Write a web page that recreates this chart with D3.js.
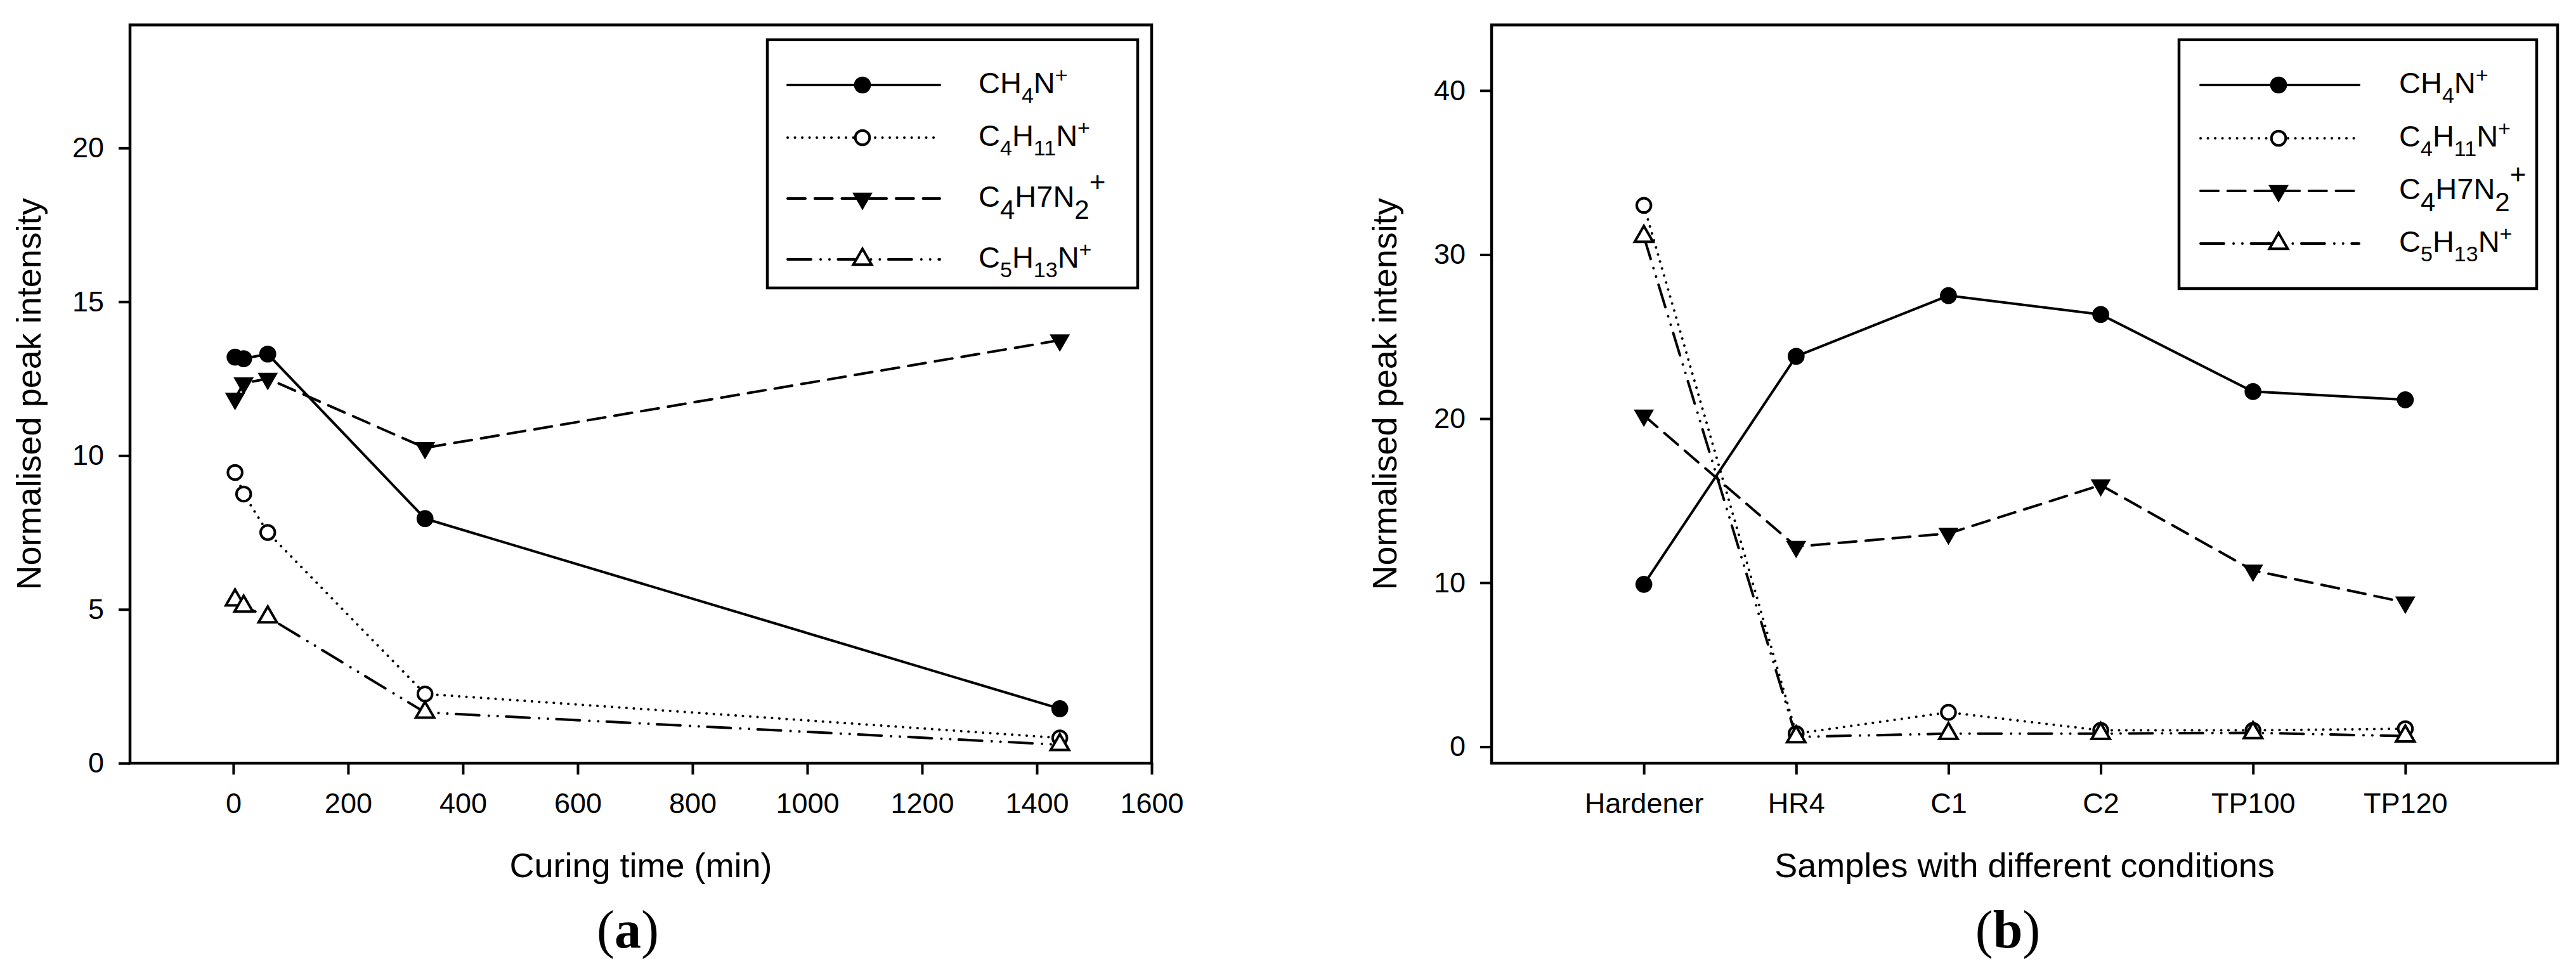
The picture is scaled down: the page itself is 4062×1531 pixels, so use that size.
<!DOCTYPE html>
<html>
<head>
<meta charset="utf-8">
<script src="https://cdn.jsdelivr.net/npm/d3@7"></script>
<style>
  body { margin: 0; background: #fff; }
  svg text { font-family: "Liberation Sans", Arial, sans-serif; fill: #000; }
</style>
</head>
<body>
<svg id="fig" width="4062" height="1531"></svg>
<script>
// ---- panel (a) : curing time ----
var curingTime = [3, 18, 60, 334, 1440];
var ch4nA   = [13.2, 13.15, 13.3, 7.95, 1.77];
var c4h11nA = [9.45, 8.75, 7.5, 2.25, 0.82];
var c4h7n2A = [11.85, 12.35, 12.5, 10.25, 13.75];
var c5h13nA = [5.3, 5.1, 4.75, 1.65, 0.6];
var xTicksA = [0, 200, 400, 600, 800, 1000, 1200, 1400, 1600];
var yTicksA = [0, 5, 10, 15, 20];

// ---- panel (b) : samples ----
var samples = ["Hardener", "HR4", "C1", "C2", "TP100", "TP120"];
var ch4nB   = [9.9, 23.8, 27.5, 26.35, 21.65, 21.15];
var c4h11nB = [33.0, 0.8, 2.1, 1.0, 1.0, 1.1];
var c4h7n2B = [20.2, 12.2, 13.0, 15.95, 10.75, 8.8];
var c5h13nB = [31.1, 0.6, 0.8, 0.8, 0.85, 0.65];
var yTicksB = [0, 10, 20, 30, 40];

// legend labels, one list of pieces per series (sub / sup)
var legendLabels = [
  [{t: "CH"}, {t: "4", k: "sub"}, {t: "N"}, {t: "+", k: "sup"}],
  [{t: "C"}, {t: "4", k: "sub"}, {t: "H"}, {t: "11", k: "sub"}, {t: "N"}, {t: "+", k: "sup"}],
  [{t: "C"}, {t: "4", k: "sub", big: true}, {t: "H7N"}, {t: "2", k: "sub", big: true}, {t: "+", k: "sup", big: true}],
  [{t: "C"}, {t: "5", k: "sub"}, {t: "H"}, {t: "13", k: "sub"}, {t: "N"}, {t: "+", k: "sup"}]
];

// line / marker style for each series
var styles = [
  {dash: null,                           sym: d3.symbolCircle,   size: 560, fill: "#000", rot: 0},
  {dash: "0.1,11.4",                     sym: d3.symbolCircle,   size: 400, fill: "#fff", rot: 0},
  {dash: "28,14.7",                      sym: d3.symbolTriangle, size: 440, fill: "#000", rot: 180},
  {dash: "37,15,0.1,13.8,0.1,13.4",      sym: d3.symbolTriangle, size: 360, fill: "#fff", rot: 0}
];

var svg = d3.select("#fig");

function drawMarkers(g, pts, st) {
  g.selectAll(null).data(pts).enter().append("path")
    .attr("d", d3.symbol().type(st.sym).size(st.size))
    .attr("transform", function(p) { return "translate(" + p[0] + "," + p[1] + ") rotate(" + st.rot + ")"; })
    .attr("fill", st.fill)
    .attr("stroke", "#000")
    .attr("stroke-width", st.fill == "#fff" ? 4 : 0)
    .attr("stroke-linejoin", "miter");
}

function formula(g, x, y, parts) {
  var t = g.append("text").attr("x", x).attr("y", y).style("font-size", "47px");
  var cur = 0;
  parts.forEach(function(p) {
    var off = 0, fs = 47;
    if (p.k == "sub") { off = p.big ? 19 : 15; fs = p.big ? 42 : 34; }
    if (p.k == "sup") { off = p.big ? -24 : -17; fs = p.big ? 44 : 34; }
    t.append("tspan").attr("dy", off - cur).style("font-size", fs + "px").text(p.t);
    cur = off;
  });
}

function drawPanel(cfg) {
  var g = svg.append("g");
  var x = cfg.x, y = cfg.y;

  // data lines + markers
  cfg.series.forEach(function(vals, i) {
    var st = styles[i];
    var pts = vals.map(function(v, j) { return [x(cfg.xs[j]), y(v)]; });
    g.append("path")
      .attr("d", d3.line()(pts))
      .attr("fill", "none")
      .attr("stroke", "#000")
      .attr("stroke-width", 4)
      .attr("stroke-linecap", "round")
      .attr("stroke-dasharray", st.dash);
    drawMarkers(g, pts, st);
  });

  // axes
  var yAxis = d3.axisLeft(y).tickValues(cfg.yTicks).tickSize(18).tickPadding(23).tickFormat(d3.format("d"));
  var xAxis = d3.axisBottom(x).tickValues(cfg.xTicks).tickSize(18).tickPadding(29).tickSizeOuter(0);
  if (cfg.numericX) xAxis.tickFormat(d3.format("d"));
  var ax = g.append("g").attr("transform", "translate(" + cfg.x0 + ",0)").call(yAxis);
  var bx = g.append("g").attr("transform", "translate(0," + cfg.y0 + ")").call(xAxis);
  [ax, bx].forEach(function(a) {
    a.select(".domain").remove();
    a.attr("font-family", null).attr("font-size", null);
    a.selectAll("line").attr("stroke-width", 4);
    a.selectAll("text").style("font-size", "45px");
  });

  // frame
  g.append("rect")
    .attr("x", cfg.x0).attr("y", cfg.y1)
    .attr("width", cfg.x1 - cfg.x0).attr("height", cfg.y0 - cfg.y1)
    .attr("fill", "none").attr("stroke", "#000").attr("stroke-width", 4.5);

  // titles
  g.append("text")
    .attr("transform", "translate(" + cfg.yTitleX + "," + (cfg.y0 + cfg.y1) / 2 + ") rotate(-90)")
    .attr("text-anchor", "middle").style("font-size", "54px")
    .text("Normalised peak intensity");
  g.append("text")
    .attr("x", (cfg.x0 + cfg.x1) / 2).attr("y", 1383)
    .attr("text-anchor", "middle").style("font-size", "54px")
    .text(cfg.xTitle);
  var pl = g.append("text")
    .attr("x", cfg.tagX).attr("y", 1494)
    .attr("text-anchor", "middle")
    .style("font-family", "'Liberation Serif', 'Times New Roman', serif")
    .style("font-size", "84px");
  pl.append("tspan").text("(");
  pl.append("tspan").style("font-weight", "bold").text(cfg.tag);
  pl.append("tspan").text(")");

  // legend
  var L = cfg.legend;
  g.append("rect")
    .attr("x", L.x0).attr("y", L.y0).attr("width", L.x1 - L.x0).attr("height", L.y1 - L.y0)
    .attr("fill", "#fff").attr("stroke", "#000").attr("stroke-width", 4.5);
  L.rows.forEach(function(ry, i) {
    var st = styles[i];
    g.append("line")
      .attr("x1", L.l0).attr("x2", L.l1).attr("y1", ry).attr("y2", ry)
      .attr("stroke", "#000").attr("stroke-width", 4)
      .attr("stroke-linecap", "round")
      .attr("stroke-dasharray", st.dash);
    drawMarkers(g, [[L.mx, ry]], st);
    formula(g, L.tx, ry + 12.5, legendLabels[i]);
  });
}

var plotTop = 39.3, plotBottom = 1203.3;

// panel (a)
var aLeft = 205, aRight = 1816;
drawPanel({
  x0: aLeft, x1: aRight, y1: plotTop, y0: plotBottom,
  x: d3.scaleLinear().domain([-180, 1600]).range([aLeft, aRight]),
  y: d3.scaleLinear().domain([0, 24]).range([plotBottom, plotTop]),
  xs: curingTime, numericX: true,
  series: [ch4nA, c4h11nA, c4h7n2A, c5h13nA],
  xTicks: xTicksA, yTicks: yTicksA,
  xTitle: "Curing time (min)", yTitleX: 64,
  tag: "a", tagX: 990,
  legend: {x0: 1210, y0: 62.7, x1: 1794, y1: 454, rows: [134, 217, 313, 409],
           l0: 1242, l1: 1482, mx: 1360, tx: 1543}
});

// panel (b)
var bLeft = 2352, bRight = 4033;
drawPanel({
  x0: bLeft, x1: bRight, y1: plotTop, y0: plotBottom,
  x: d3.scalePoint().domain(samples).range([bLeft, bRight]).padding(1),
  y: d3.scaleLinear().domain([-1, 44]).range([plotBottom, plotTop]),
  xs: samples, numericX: false,
  series: [ch4nB, c4h11nB, c4h7n2B, c5h13nB],
  xTicks: samples, yTicks: yTicksB,
  xTitle: "Samples with different conditions", yTitleX: 2202,
  tag: "b", tagX: 3166,
  legend: {x0: 3436, y0: 62.7, x1: 4000, y1: 455, rows: [134, 218, 301, 384],
           l0: 3470, l1: 3720, mx: 3593, tx: 3783}
});
</script>
</body>
</html>
